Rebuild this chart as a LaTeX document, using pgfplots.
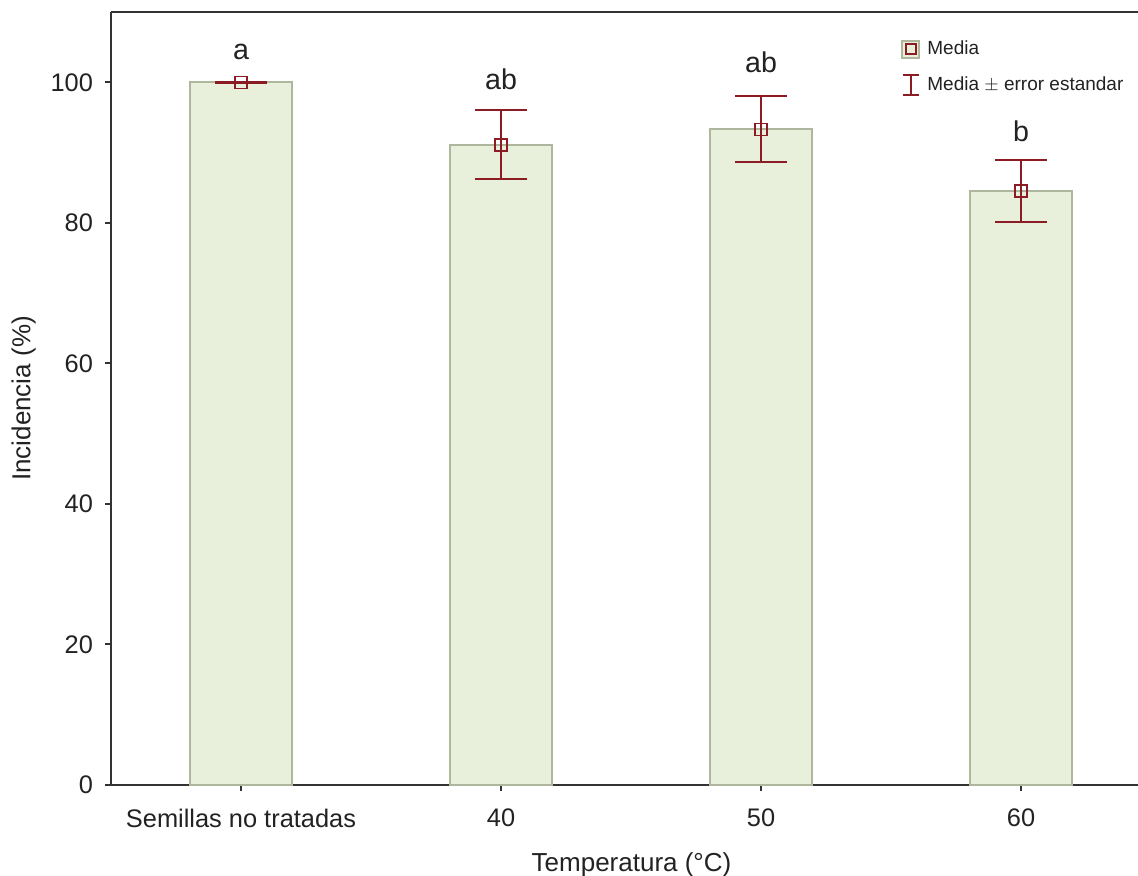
\documentclass[border=0pt]{standalone}
\usepackage{fontspec}
\setmainfont{Liberation Sans}
\usepackage{pgfplots}
\pgfplotsset{compat=1.18}
\usepackage{pgfplotstable}
\definecolor{barfill}{HTML}{E8F0DC}
\definecolor{bardraw}{HTML}{AEB69E}
\definecolor{errc}{HTML}{8B1C24}
\definecolor{txt}{HTML}{222222}
\pgfplotstableread{
x y ep em
0 100.0 0.05 0.05
1 91.1 4.9 4.8
2 93.3 4.7 4.7
3 84.5 4.4 4.4
}\datatab
\pgfplotstableread{
x y lab
0 104.3 a
1 100.4 ab
2 102.8 ab
3 93.0 b
}\labtab
\begin{document}
\begin{tikzpicture}
\begin{axis}[
  scale only axis,
  width=513.5pt, height=386.5pt,
  xmin=-0.5, xmax=3.45,
  ymin=0, ymax=110,
  axis x line*=box, axis y line*=left,
  axis line style={color=black!80, line width=1pt},
  xtick={0,1,2,3},
  xticklabels={Semillas no tratadas,40,50,60},
  ytick={0,20,40,60,80,100},
  tick align=outside,
  xtick pos=bottom, ytick pos=left,
  major tick length=3pt,
  tick style={color=black!80, line width=1pt},
  ticklabel style={font=\fontsize{12.7}{14}\selectfont, text=txt},
  xticklabel style={yshift=-5.5pt},
  yticklabel style={xshift=-2.5pt},
  /pgf/number format/assume math mode=true,
  xlabel={Temperatura (°C)},
  ylabel={Incidencia (\%)},
  label style={font=\fontsize{13}{15}\selectfont, text=txt},
  xlabel style={at={(axis description cs:0.5068,0)}, anchor=north, yshift=-30.5pt},
  ylabel style={yshift=0.5pt},
  legend style={at={(axis description cs:0.769,0.9685)}, anchor=north west, draw=none, fill=none,
    font=\fontsize{9.5}{11}\selectfont, text=txt, row sep=5.5pt, inner sep=0pt},
  legend cell align=left,
]
\addplot[ybar, bar width=0.392, fill=barfill, draw=bardraw, line width=1pt,
  legend image code/.code={
    \path[draw=none, fill=none] (0pt,0pt) -- (10.6pt,0pt);
    \draw[fill=barfill, draw=bardraw, line width=1pt] (0pt,-4.3pt) rectangle (8.6pt,4.3pt);
    \draw[errc, line width=0.75pt, fill=barfill] (1.8pt,-2.5pt) rectangle (6.8pt,2.5pt);
  }] table[x=x, y=y] {\datatab};
\addlegendentry{Media}
\addplot[errc, only marks, mark=square, mark size=3pt, mark options={line width=0.75pt},
  legend image code/.code={
    \path[draw=none, fill=none] (0pt,0pt) -- (10.6pt,0pt);
    \draw[errc, line width=0.75pt] (4.3pt,-5pt) -- (4.3pt,5pt);
    \draw[errc, line width=0.75pt] (0.3pt,-5pt) -- (8.3pt,-5pt);
    \draw[errc, line width=0.75pt] (0.3pt,5pt) -- (8.3pt,5pt);
  },
  error bars/.cd, y dir=both, y explicit,
  error bar style={errc, line width=1pt},
  error mark options={errc, line width=1pt, mark size=13pt, rotate=90}
  ] table[x=x, y=y, y error plus=ep, y error minus=em] {\datatab};
\addlegendentry{Media $\pm$ error estandar}
\addplot[draw=none, mark=none, nodes near coords, point meta=explicit symbolic,
  nodes near coords style={anchor=center, font=\fontsize{14.3}{16}\selectfont, text=txt}]
  table[x=x, y=y, meta=lab] {\labtab};
\end{axis}
\pgfresetboundingbox
\path (-55.5pt,-45pt) rectangle (513.5pt,392.5pt);
\end{tikzpicture}
\end{document}
